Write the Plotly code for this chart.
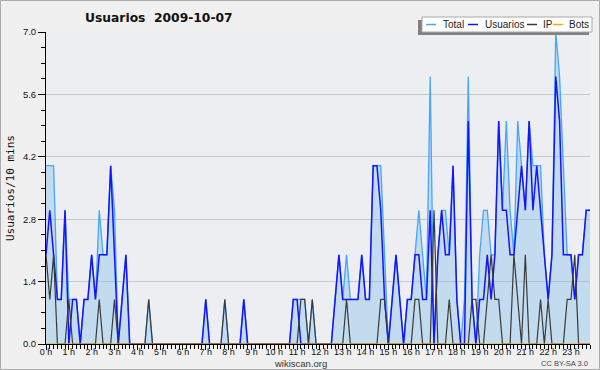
import plotly.graph_objects as go

# ---- data (10-minute slots, 2009-10-07) ----
usuarios = [2,3,2,1,1,3,0,1,1,0,1,1,2,1,2,2,2,4,2,0,1,2,0,0,
            0,0,0,0,0,0,0,0,0,0,0,0,0,0,0,0,0,0,1,0,0,0,0,0,
            0,0,0,0,1,0,0,0,0,0,0,0,0,0,0,0,0,1,1,0,0,0,0,0,
            0,0,0,0,1,2,1,1,1,1,1,2,1,1,4,4,3,1,0,1,2,1,0,1,
            1,2,2,1,1,3,0,2,3,2,2,4,1,0,0,5,1,0,1,1,2,1,2,5,
            3,3,2,2,3,4,3,5,3,4,3,2,1,2,6,5,2,2,2,1,2,2,3,3]
ip       = [2,1,2,0,0,0,1,0,0,0,0,0,0,0,1,0,0,0,1,0,0,0,0,0,
            0,0,0,1,0,0,0,0,0,0,0,0,0,0,0,0,0,0,0,0,0,0,0,1,
            0,0,0,0,0,0,0,0,0,0,0,0,0,0,0,0,0,0,0,1,1,0,1,0,
            0,0,0,0,0,0,0,1,0,0,0,0,0,0,0,0,1,1,0,0,0,0,0,0,
            0,1,1,0,0,0,3,0,0,0,1,0,0,0,0,0,1,1,0,0,1,2,1,1,
            0,0,0,2,1,0,2,0,0,0,1,0,1,0,0,0,0,1,1,2,0,0,0,0]
total    = [4,4,4,1,1,3,1,1,1,0,1,1,2,1,3,2,2,4,3,0,1,2,0,0,
            0,0,0,1,0,0,0,0,0,0,0,0,0,0,0,0,0,0,1,0,0,0,0,1,
            0,0,0,0,1,0,0,0,0,0,0,0,0,0,0,0,0,1,1,1,1,0,1,0,
            0,0,0,0,1,2,1,2,1,1,1,2,1,1,4,4,4,2,0,1,2,1,0,1,
            1,2,3,2,1,6,0,2,3,3,2,4,1,0,1,6,1,0,2,3,3,2,2,5,
            3,5,3,2,5,4,3,5,4,4,4,2,1,2,7,6,4,2,2,1,2,2,3,3]
bots     = [0] * 144

day = "2009-10-07"
times = [f"{day} {h:02d}:{m:02d}" for h in range(24) for m in range(0, 60, 10)]
hour_vals = [f"{day} {h:02d}:00" for h in range(24)]
hour_labels = [f"{h} h" for h in range(24)]
y_ticks = [0.0, 1.4, 2.8, 4.2, 5.6, 7.0]
y_labels = ["0.0", "1.4", "2.8", "4.2", "5.6", "7.0"]

series_names = ["Total", "Usuarios", "IP", "Bots"]
series_colors = ["#45a5ff", "#1414ff", "#3a3a3a", "#ffa500"]

SMALL = "Liberation Sans, Arial, sans-serif"
TITLE_FONT = "DejaVu Sans, sans-serif"

# plot-area geometry in pixels (for helper conversions of decorations)
L, R, T, B = 46, 590, 32, 344
def px(x):
    return (x - L) / (R - L)
def py(y):
    return (B - y) / (B - T)

fig = go.Figure()
fig.add_trace(go.Scatter(x=times, y=total, name="Total", mode="lines",
                         line=dict(color=series_colors[0], width=1.3),
                         fill="tozeroy", fillcolor="rgba(120,185,235,0.36)",
                         showlegend=False))
fig.add_trace(go.Scatter(x=times, y=usuarios, name="Usuarios", mode="lines",
                         line=dict(color=series_colors[1], width=1.5), showlegend=False))
fig.add_trace(go.Scatter(x=times, y=ip, name="IP", mode="lines",
                         line=dict(color=series_colors[2], width=1.2), showlegend=False))
fig.add_trace(go.Scatter(x=times, y=bots, name="Bots", mode="lines",
                         line=dict(color=series_colors[3], width=1), showlegend=False))

shapes = []
annotations = []
# outer border
shapes.append(dict(type="rect", xref="paper", yref="paper",
                   x0=px(0.5), x1=px(599.5), y0=py(369.5), y1=py(0.5),
                   line=dict(color="#ababab", width=1), layer="below"))
# legend box with shadow
shapes.append(dict(type="rect", xref="paper", yref="paper",
                   x0=px(418), x1=px(589), y0=py(35), y1=py(20),
                   line=dict(width=0), fillcolor="#808080", layer="above"))
shapes.append(dict(type="rect", xref="paper", yref="paper",
                   x0=px(422), x1=px(592), y0=py(32), y1=py(17),
                   line=dict(color="#a8a8a8", width=1), fillcolor="#ffffff", layer="above"))
leg_line_x = [426, 468, 527, 553]
leg_text_x = [441, 483, 541, 567]
for name, col, lx, tx in zip(series_names, series_colors, leg_line_x, leg_text_x):
    shapes.append(dict(type="line", xref="paper", yref="paper",
                       x0=px(lx), x1=px(lx + 10), y0=py(24.5), y1=py(24.5),
                       line=dict(color=col, width=1.5), layer="above"))
    annotations.append(dict(text=name, xref="paper", yref="paper",
                            x=px(tx), y=py(24.5), xanchor="left", yanchor="middle",
                            showarrow=False, font=dict(family=SMALL, size=10, color="#222")))

annotations.append(dict(text="Usuarios/10 mins", xref="paper", yref="paper",
                        x=px(10), y=0.5, textangle=-90, xanchor="center", yanchor="middle",
                        showarrow=False,
                        font=dict(family="DejaVu Sans Mono, monospace", size=11, color="#111")))
annotations.append(dict(text="wikiscan.org", xref="paper", yref="paper",
                        x=px(300), y=py(363), xanchor="center", yanchor="middle",
                        showarrow=False, font=dict(family=SMALL, size=9.5, color="#333")))
annotations.append(dict(text="CC BY-SA 3.0", xref="paper", yref="paper",
                        x=px(590), y=py(363), xanchor="right", yanchor="middle",
                        showarrow=False, font=dict(family=SMALL, size=7.5, color="#444")))

fig.update_layout(
    width=600, height=370,
    margin=dict(l=L, r=600 - R, t=T, b=370 - B, autoexpand=False),
    paper_bgcolor="#f0f0f0", plot_bgcolor="#edeef1",
    title=dict(text="Usuarios\u00a0 2009-10-07", x=85 / 600, xref="container", xanchor="left",
               y=1 - 18 / 370, yref="container", yanchor="middle",
               font=dict(family=TITLE_FONT, size=12.3, color="#111", weight="bold")),
    showlegend=False,
    shapes=shapes, annotations=annotations,
    font=dict(family=SMALL, size=9, color="#111"),
)
fig.update_xaxes(type="date", range=[times[0], times[-1]],
                 tickmode="array", tickvals=hour_vals, ticktext=hour_labels,
                 ticks="outside", ticklen=5, tickcolor="#000", tickwidth=1,
                 ticklabelstandoff=-6,
                 showline=True, linecolor="#000", linewidth=1, showgrid=False, zeroline=False,
                 tickfont=dict(family=SMALL, size=9, color="#111"),
                 minor=dict(ticks="outside", ticklen=4, tickcolor="#000", tickwidth=1,
                            dtick=600000, tick0=times[0], showgrid=False),
                 fixedrange=True)
fig.update_yaxes(range=[0, 7], tickmode="array", tickvals=y_ticks, ticktext=y_labels,
                 ticks="outside", ticklen=7, tickcolor="#000", tickwidth=1,
                 showline=True, linecolor="#000", linewidth=1,
                 showgrid=True, gridcolor="#c8c8c8", gridwidth=1, zeroline=False,
                 tickfont=dict(family=SMALL, size=9.5, color="#111"),
                 minor=dict(ticks="outside", ticklen=4, tickcolor="#000", tickwidth=1,
                            dtick=0.35, tick0=0, showgrid=False),
                 fixedrange=True)

fig.write_html("out.html", config={"displayModeBar": False, "staticPlot": True},
               post_script="document.body.style.margin='0';document.body.style.overflow='hidden';")
